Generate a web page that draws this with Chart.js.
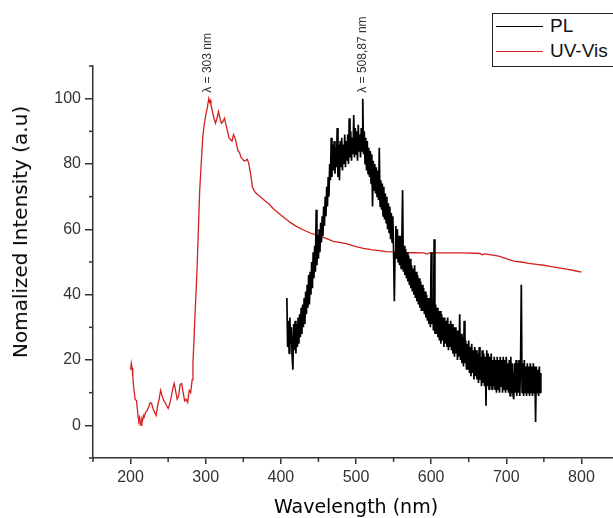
<!DOCTYPE html>
<html>
<head>
<meta charset="utf-8">
<script src="https://cdn.jsdelivr.net/npm/chart.js@4.4.1/dist/chart.umd.min.js"></script>
<style>
html,body{margin:0;padding:0;background:#fff;overflow:hidden;width:613px;height:518px;}
#wrap{position:relative;width:650px;height:518px;}
#legend{position:absolute;left:492px;top:13px;width:150px;height:52px;border:1px solid #222;background:#fff;font-family:"Liberation Sans",Arial,sans-serif;font-size:19px;color:#111;}
.item{position:absolute;left:0;height:24px;display:flex;align-items:center;white-space:nowrap;}
.swatch{width:47px;height:0;border-top:1.4px solid;margin-left:3px;margin-right:7px;}
#ytitle{position:absolute;left:20px;top:232px;transform:translate(-50%,-50%) rotate(-90deg);font-family:"DejaVu Sans",sans-serif;font-size:20px;color:#000;white-space:nowrap;}
</style>
</head>
<body>
<div id="wrap">
<canvas id="c" width="650" height="518"></canvas>
<div id="ytitle"></div>
<div id="legend"></div>
</div>
<script>
// ---- data ----
const seriesNames = ['PL', 'UV-Vis'];
const seriesColors = ['#000000', '#d42020'];

const uvWavelength = [200,201,202,203,204,206,208,209,210,211,
 212,213,214,215,216,217,218,220,222,224,
 226,228,230,232,234,236,238,240,242,244,
 246,248,250,252,254,256,258,260,262,264,
 266,268,270,272,274,276,278,280,282,283,
 284,286,288,290,292,294,296,298,300,302,
 304,305,306,307,309,311,313,315,317,319,
 321,323,325,327,329,331,333,335,337,339,
 341,343,345,347,349,351,353,355,357,359,
 361,362,364,367,370,375,380,384,390,398,
 405,412,420,430,440,451,460,470,487,500,
 510,520,531,540,550,558,575,590,595,598,
 620,645,665,668,671,680,690,700,710,720,
 730,740,750,760,770,780,790,800];
const uvIntensity = [17,19,17.5,15,12,8,7.5,5,2.5,1.5,
 2.5,1,0,2,1.5,3,2.5,4,4.5,5.5,
 7,6.7,5,4,3,6,8,10.7,9,7.6,
 7,6,5.2,6.5,8.5,11,12.8,10.5,8,9,
 12.5,12.8,10,7.5,8,7,10.7,10,14,19,
 24,35,45,58,72,80,88,92,95,97,
 100,99,99.5,98,96,94,92.5,94,96,94,
 92.5,93,94,92,90,88,87.5,87,89,88,
 86,84,83.5,82,81.5,81,81,81.5,80.5,78,
 75,73,72,71,70.5,69.5,68.5,67.8,66.3,64.8,
 63.5,62.2,61,59.8,58.8,58,57.2,56.3,55.6,54.7,
 54.2,53.8,53.5,53.2,53.1,52.8,52.9,52.8,52.4,52.8,
 52.8,52.8,52.6,52.2,52.5,52.2,51.8,51,50.3,50,
 49.6,49.3,49,48.6,48.2,47.8,47.4,46.9];

const plWavelength = [408,409,410,411,412,413,414,415,416,417,
 418,419,420,421,422,423,424,425,426,427,
 428,429,430,431,432,433,434,435,436,437,
 438,439,440,441,442,443,444,445,446,447,
 448,449,450,451,452,453,454,455,456,457,
 458,459,460,461,462,463,464,465,466,467,
 468,469,470,471,472,473,474,475,476,477,
 478,479,480,481,482,483,484,485,486,487,
 488,489,490,491,492,493,494,495,496,497,
 498,499,500,501,502,503,504,505,506,507,
 508,509,510,511,512,513,514,515,516,517,
 518,519,520,521,522,523,524,525,526,527,
 528,529,530,531,532,533,534,535,536,537,
 538,539,540,541,542,543,544,545,546,547,
 548,549,550,551,552,553,554,555,556,557,
 558,559,560,561,562,563,564,565,566,567,
 568,569,570,571,572,573,574,575,576,577,
 578,579,580,581,582,583,584,585,586,587,
 588,589,590,591,592,593,594,595,596,597,
 598,599,600,601,602,603,604,605,606,607,
 608,609,610,611,612,613,614,615,616,617,
 618,619,620,621,622,623,624,625,626,627,
 628,629,630,631,632,633,634,635,636,637,
 638,639,640,641,642,643,644,645,646,647,
 648,649,650,651,652,653,654,655,656,657,
 658,659,660,661,662,663,664,665,666,667,
 668,669,670,671,672,673,674,675,676,677,
 678,679,680,681,682,683,684,685,686,687,
 688,689,690,691,692,693,694,695,696,697,
 698,699,700,701,702,703,704,705,706,707,
 708,709,710,711,712,713,714,715,716,717,
 718,719,720,721,722,723,724,725,726,727,
 728,729,730,731,732,733,734,735,736,737,
 738,739,740,741,742,743,744,745,746];
const plIntensity = [39,24,32,22,33,25,30,21,17,31,
 23,32,22,31,24,33,25,34,27,36,
 28,37,30,39,31,41,34,43,36,46,
 37,47,40,50,42,53,45,55,47,66,
 49,58,51,60,53,62,56,64,58,67,
 61,70,64,73,67,76,70,80,75,88,
 76,86,78,87,77,85,79,91,76,86,
 75,87,79,88,78,86,80,89,79,87,
 81,89,80,94,82,90,81,88,83,95,
 82,91,83,90,81,92,84,89,82,91,
 84,100,83,90,80,88,78,87,77,85,
 76,84,74,83,67,81,72,80,71,79,
 70,78,69,85,67,75,66,74,64,73,
 63,71,62,70,60,68,59,67,57,65,
 56,64,54,38,53,61,51,60,50,58,
 49,58,48,56,72,47,55,46,54,45,
 53,44,52,43,51,42,49,41,48,40,
 49,39,47,38,46,37,45,36,44,35,
 43,35,42,34,41,33,40,32,39,31,
 39,30,53,31,38,29,57,28,37,28,
 36,27,35,26,35,25,34,26,33,24,
 33,25,32,24,33,23,31,24,32,23,
 31,22,30,21,30,22,29,20,29,21,
 34,20,28,19,27,18,32,19,26,17,
 25,17,26,16,24,15,25,16,23,14,
 24,15,23,14,22,13,24,14,21,12,
 23,13,22,12,21,6,23,12,22,11,
 21,12,22,11,20,12,21,11,20,10,
 21,11,20,10,21,12,20,10,21,11,
 20,10,21,11,19,10,20,9,21,10,
 19,9,8,19,10,20,9,19,10,20,
 9,19,43,10,19,9,20,10,18,9,
 19,10,18,9,19,10,18,9,19,10,
 18,1,18,10,17,9,18,10,16];

const xTickValues = [200,300,400,500,600,700,800];
const xMinorValues = [150,250,350,450,550,650,750,850];
const yTickValues = [0,20,40,60,80,100];
const yMinorValues = [-10,10,30,50,70,90,110];

const peakWavelengths = [303, 508.87];
const peakLabels = ['λ = 303 nm', 'λ = 508,87 nm'];
const peakLabelBase = 101.8;

const xTitle = 'Wavelength (nm)';
const yTitle = 'Nomalized Intensity (a.u)';

// ---- build ----
const toXY = (xs, ys) => xs.map((x, i) => ({x: x, y: ys[i]}));

const minorTicks = {
  id: 'minorTicks',
  afterDraw(chart) {
    const {ctx, chartArea, scales} = chart;
    ctx.save();
    ctx.strokeStyle = '#333';
    ctx.lineWidth = 1.5;
    xMinorValues.forEach(v => {
      const px = scales.x.getPixelForValue(v);
      ctx.beginPath(); ctx.moveTo(px, chartArea.bottom); ctx.lineTo(px, chartArea.bottom + 4); ctx.stroke();
    });
    yMinorValues.forEach(v => {
      const py = scales.y.getPixelForValue(v);
      ctx.beginPath(); ctx.moveTo(chartArea.left, py); ctx.lineTo(chartArea.left - 4, py); ctx.stroke();
    });
    ctx.restore();
  }
};

const peakText = {
  id: 'peakText',
  afterDatasetsDraw(chart) {
    const {ctx, scales} = chart;
    peakWavelengths.forEach((w, i) => {
      const px = scales.x.getPixelForValue(w);
      const py = scales.y.getPixelForValue(peakLabelBase);
      ctx.save();
      ctx.translate(px, py);
      ctx.rotate(-Math.PI / 2);
      ctx.font = '12px "Liberation Sans", Arial, sans-serif';
      ctx.fillStyle = '#333';
      ctx.textAlign = 'left';
      ctx.textBaseline = 'middle';
      ctx.fillText(peakLabels[i], 0, 0);
      ctx.restore();
    });
  }
};

const tickFont = {family: '"Liberation Sans", Arial, sans-serif', size: 16};

new Chart(document.getElementById('c'), {
  type: 'line',
  data: {
    datasets: [
      {label: seriesNames[0], data: toXY(plWavelength, plIntensity), borderColor: seriesColors[0], borderWidth: 1.7, pointRadius: 0, tension: 0, fill: false, borderJoinStyle: 'bevel'},
      {label: seriesNames[1], data: toXY(uvWavelength, uvIntensity), borderColor: seriesColors[1], borderWidth: 1.3, pointRadius: 0, tension: 0, fill: false}
    ]
  },
  options: {
    responsive: false,
    animation: false,
    devicePixelRatio: 1,
    layout: {padding: {top: 66, right: 31, left: 0, bottom: 0}},
    plugins: {legend: {display: false}, tooltip: {enabled: false}},
    scales: {
      x: {
        type: 'linear', min: 150, max: 850,
        afterBuildTicks: s => { s.ticks = xTickValues.map(v => ({value: v})); },
        afterFit: s => { s.height = 60; },
        ticks: {color: '#333', font: tickFont, padding: 4, maxRotation: 0, autoSkip: false},
        grid: {drawOnChartArea: false, drawTicks: true, tickLength: 6, color: '#333', lineWidth: 1.5},
        border: {color: '#333', width: 1.5},
        title: {display: true, text: xTitle, color: '#000', font: {family: '"DejaVu Sans", sans-serif', size: 19, lineHeight: 1}, padding: {top: 0, bottom: 0}}
      },
      y: {
        type: 'linear', min: -10, max: 110,
        afterBuildTicks: s => { s.ticks = yTickValues.map(v => ({value: v})); },
        afterFit: s => { s.width = 93; },
        ticks: {color: '#333', font: tickFont, padding: 4},
        grid: {drawOnChartArea: false, drawTicks: true, tickLength: 8, color: '#333', lineWidth: 1.5},
        border: {color: '#333', width: 1.5}
      }
    }
  },
  plugins: [minorTicks, peakText]
});

document.getElementById('ytitle').textContent = yTitle;
const legend = document.getElementById('legend');
seriesNames.forEach((name, i) => {
  const item = document.createElement('div');
  item.className = 'item';
  item.style.top = (i === 0 ? 0 : 25) + 'px';
  const sw = document.createElement('span');
  sw.className = 'swatch';
  sw.style.borderTopColor = seriesColors[i];
  const tx = document.createElement('span');
  tx.textContent = name;
  item.appendChild(sw); item.appendChild(tx);
  legend.appendChild(item);
});
</script>
</body>
</html>
